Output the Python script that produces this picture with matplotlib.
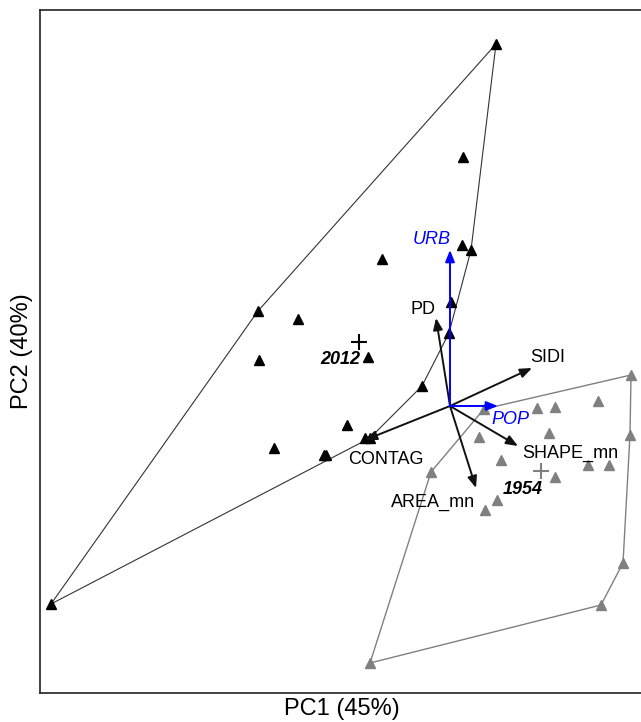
import matplotlib
matplotlib.use("Agg")
import matplotlib.pyplot as plt

plt.rcParams['font.family'] = ['Liberation Sans', 'DejaVu Sans']

# === site scores, 2012 ===
pc1_2012 = [0.46, 0.13, 0.12, 0.21, -0.68, -1.92, -1.52, 0.01, -0.01, -1.91,
            -0.82, -0.28, -1.03, -1.76, -0.85, -0.80, -1.26, -1.24, -3.99]
pc2_2012 = [3.62, 2.49, 1.61, 1.56, 1.47, 0.95, 0.87, 1.04, 0.73, 0.46,
            0.49, 0.20, -0.19, -0.42, -0.32, -0.32, -0.49, -0.49, -1.98]
hull_2012 = [18, 5, 0, 3, 8, 11, 15, 18]

# === site scores, 1954 ===
pc1_1954 = [1.81, 1.48, 1.05, 0.87, 0.34, 0.99, 1.80, 0.29, 0.51, 1.38,
            1.59, 1.05, -0.19, 0.47, 0.35, 1.73, 1.51, -0.80]
pc2_1954 = [0.31, 0.05, -0.01, -0.02, -0.03, -0.27, -0.29, -0.31, -0.54, -0.59,
            -0.59, -0.71, -0.66, -0.94, -1.04, -1.57, -1.99, -2.57]
hull_1954 = [0, 6, 15, 16, 17, 12, 4, 0]

# === group centroids ===
centroid_2012 = (-0.91, 0.64)
centroid_1954 = (0.91, -0.65)

# === variable loadings ===
var_names = ["PD", "SIDI", "CONTAG", "SHAPE_mn", "AREA_mn"]
var_pc1 = [-0.14, 0.82, -0.85, 0.68, 0.26]
var_pc2 = [0.88, 0.38, -0.34, -0.40, -0.82]

# === supplementary (fitted) variables ===
sup_names = ["URB", "POP"]
sup_pc1 = [0.0, 0.48]
sup_pc2 = [1.56, 0.0]

# label positions
var_label_pos = {"PD": (-0.27, 0.97), "SIDI": (0.98, 0.48), "CONTAG": (-0.64, -0.53),
                 "SHAPE_mn": (1.20, -0.47), "AREA_mn": (-0.17, -0.96)}
sup_label_pos = {"URB": (-0.18, 1.66), "POP": (0.60, -0.14)}

W, H = 641, 722
fig = plt.figure(figsize=(W / 100, H / 100), dpi=100)
ax = fig.add_axes([40 / W, 29 / H, 605 / W, 683 / H])
ax.set_xlim(-4.10, 1.95)
ax.set_ylim(-2.87, 3.96)
ax.set_xticks([])
ax.set_yticks([])
for s in ax.spines.values():
    s.set_linewidth(1.2)
    s.set_color("#222222")

gray = "#808080"
fs = 13

# hulls
ax.plot([pc1_2012[i] for i in hull_2012], [pc2_2012[i] for i in hull_2012],
        color="#333333", lw=0.8, zorder=2)
ax.plot([pc1_1954[i] for i in hull_1954], [pc2_1954[i] for i in hull_1954],
        color=gray, lw=1.0, zorder=2)

# points
ax.plot(pc1_2012, pc2_2012, ls="none", marker="^", ms=6.5, color="black", zorder=3)
ax.plot(pc1_1954, pc2_1954, ls="none", marker="^", ms=6.5, color=gray, zorder=3)

# centroids
ax.plot(*centroid_2012, marker="+", ms=11, mew=1.5, color="black", zorder=4)
ax.plot(*centroid_1954, marker="+", ms=11, mew=1.5, color=gray, zorder=4)
ax.text(-1.10, 0.47, "2012", fontsize=fs, fontweight="bold", fontstyle="italic",
        ha="center", va="center", zorder=5)
ax.text(0.73, -0.84, "1954", fontsize=fs, fontweight="bold", fontstyle="italic",
        ha="center", va="center", zorder=5)

# loading arrows
for name, x, y in zip(var_names, var_pc1, var_pc2):
    ax.annotate("", xy=(x, y), xytext=(0, 0),
                arrowprops=dict(arrowstyle="-|>,head_length=0.5,head_width=0.2",
                                color="#111111", lw=1.4,
                                mutation_scale=14, shrinkA=0, shrinkB=0), zorder=4)
    lx, ly = var_label_pos[name]
    ax.text(lx, ly, name, fontsize=fs, ha="center", va="center", zorder=5)

for name, x, y in zip(sup_names, sup_pc1, sup_pc2):
    ax.annotate("", xy=(x, y), xytext=(0, 0),
                arrowprops=dict(arrowstyle="-|>,head_length=0.5,head_width=0.2",
                                color="#0000ff", lw=1.4,
                                mutation_scale=14, shrinkA=0, shrinkB=0), zorder=4)
    lx, ly = sup_label_pos[name]
    ax.text(lx, ly, name, fontsize=fs, fontstyle="italic", color="#0000ff",
            ha="center", va="center", zorder=5)

fig.text(342 / W, 1 - 709 / H, "PC1 (45%)", fontsize=17, ha="center", va="center")
fig.text(22 / W, 1 - 351 / H, "PC2 (40%)", fontsize=17, rotation=90,
         ha="center", va="center")

fig.savefig("out.png", dpi=100)
